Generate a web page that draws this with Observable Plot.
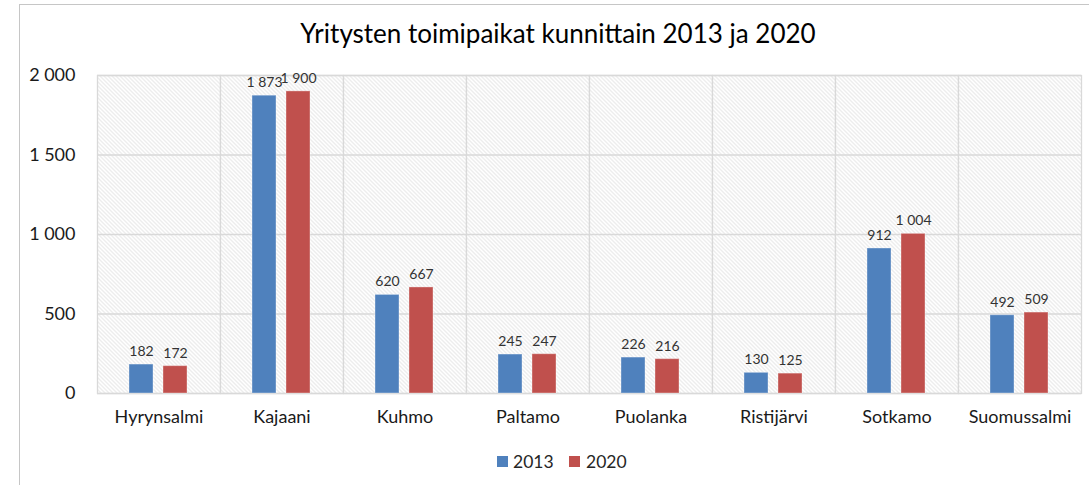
<!DOCTYPE html>
<html><head><meta charset="utf-8">
<script src="https://cdn.jsdelivr.net/npm/d3@7"></script>
<script src="https://cdn.jsdelivr.net/npm/@observablehq/plot@0.6"></script>
<style>
body{margin:0;background:#fff;font-family:Lato,"Open Sans",sans-serif;}
#box{position:absolute;left:19px;top:4px;width:1100px;height:500px;border:1.5px solid #c6c6c6;box-sizing:border-box}
#title{position:absolute;left:0;width:1116px;top:17px;text-align:center;font-size:26px;color:#000;white-space:nowrap}
#chart{position:absolute;left:0;top:60px}
.lg{position:absolute;top:451px;font-size:17.5px;color:#262626;white-space:nowrap}
.sw{position:absolute;width:11px;height:11px;top:456px}
</style>
</head><body>
<div id="box"></div>
<div id="title">Yritysten toimipaikat kunnittain 2013 ja 2020</div>
<div id="chart"></div>
<div class="sw" style="left:497px;background:#4F81BD"></div><div class="lg" style="left:513px">2013</div>
<div class="sw" style="left:569px;background:#C0504D"></div><div class="lg" style="left:586px">2020</div>
<script>
const categories = ["Hyrynsalmi","Kajaani","Kuhmo","Paltamo","Puolanka","Ristijärvi","Sotkamo","Suomussalmi"];
const years = ["2013","2020"];
const values2013 = [182,1873,620,245,226,130,912,492];
const values2020 = [172,1900,667,247,216,125,1004,509];
const yTicks = [0,500,1000,1500,2000];

const data = [];
categories.forEach((c,i)=>{
  data.push({cat:c, year:years[0], value:values2013[i]});
  data.push({cat:c, year:years[1], value:values2020[i]});
});
const loc = d3.formatLocale({decimal:",", thousands:"\u00a0", grouping:[3], currency:["","€"]});
const fmt = loc.format(",d");

const chart = Plot.plot({
  width:1089, height:380, marginLeft:97, marginRight:8, marginTop:15, marginBottom:47,
  style:{fontFamily:"Lato, 'Open Sans', sans-serif", fontSize:"18px", color:"#1a1a1a", background:"transparent"},
  fx:{domain:categories, padding:0, label:null, tickSize:0, tickPadding:17, axis:"bottom"},
  x:{domain:years, paddingInner:0.2857, paddingOuter:0.9, axis:null},
  y:{domain:[0,2000], ticks:yTicks, tickFormat:fmt, label:null, tickSize:0, tickPadding:22},
  color:{domain:years, range:["#4F81BD","#C0504D"]},
  marks:[
    Plot.frame({fill:"url(#hatch)", stroke:"#d9d9d9", strokeWidth:1.3}),
    Plot.gridY(yTicks, {stroke:"#d9d9d9", strokeOpacity:1, strokeWidth:1.3}),
    Plot.barY(data, {fx:"cat", x:"year", y:"value", fill:"year", stroke:"#ffffff", strokeOpacity:0.35, strokeWidth:1}),
    Plot.text(data, {fx:"cat", x:"year", y:"value", text:d=>fmt(d.value), dy:-13, fontSize:14, fill:"#333333"})
  ]
});
d3.select(chart).insert("defs",":first-child").html(
  '<pattern id="hatch" patternUnits="userSpaceOnUse" width="4" height="4">' +
  '<rect width="4" height="4" fill="#ffffff"/>' +
  '<path d="M-1,-1L5,5M-1,3L1,5M3,-1L5,1" stroke="#d6d6d6" stroke-width="0.9"/></pattern>');
document.getElementById("chart").appendChild(chart);
</script>
</body></html>
